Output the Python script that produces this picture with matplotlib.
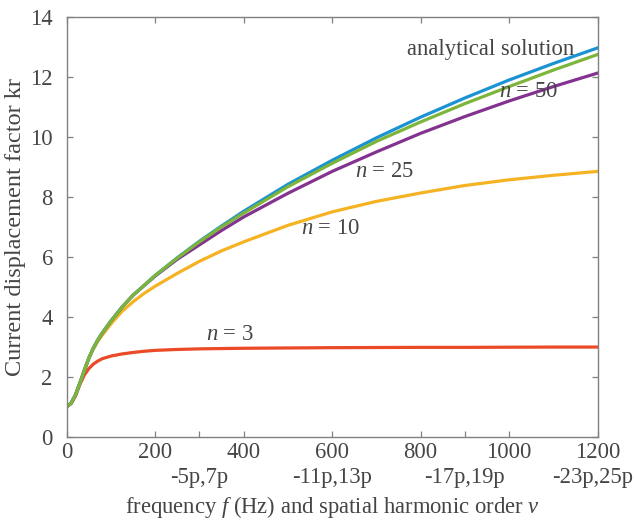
import matplotlib
matplotlib.use("Agg")
import matplotlib.pyplot as plt

plt.rcParams['font.family'] = ['Liberation Serif', 'DejaVu Serif']
plt.rcParams['mathtext.fontset'] = 'custom'
plt.rcParams['mathtext.it'] = 'Liberation Serif:italic'
plt.rcParams['mathtext.rm'] = 'Liberation Serif'

freq = [0, 10, 20, 30, 40, 50, 60, 70, 80, 100, 125, 150, 175, 200, 250, 300,
        350, 400, 500, 600, 700, 800, 900, 1000, 1100, 1200]

analytical = [1.00, 1.12, 1.40, 1.80, 2.22, 2.62, 2.95, 3.22, 3.45, 3.86, 4.32, 4.72,
              5.05, 5.38, 5.97, 6.52, 7.03, 7.52, 8.42, 9.22, 9.97, 10.66, 11.30,
              11.90, 12.45, 12.97]
n50 = [1.00, 1.12, 1.40, 1.80, 2.22, 2.62, 2.95, 3.22, 3.45, 3.86, 4.32, 4.72,
       5.05, 5.38, 5.96, 6.50, 7.00, 7.46, 8.34, 9.12, 9.85, 10.50, 11.11,
       11.68, 12.23, 12.75]
n25 = [1.00, 1.12, 1.40, 1.80, 2.22, 2.62, 2.95, 3.22, 3.45, 3.86, 4.32, 4.72,
       5.04, 5.36, 5.92, 6.40, 6.88, 7.33, 8.12, 8.85, 9.50, 10.12, 10.68,
       11.20, 11.68, 12.13]
n10 = [1.00, 1.12, 1.40, 1.80, 2.21, 2.60, 2.92, 3.17, 3.38, 3.76, 4.18, 4.50,
       4.78, 5.02, 5.45, 5.85, 6.20, 6.50, 7.05, 7.50, 7.85, 8.13, 8.38,
       8.57, 8.72, 8.85]
n3 = [1.00, 1.10, 1.36, 1.75, 2.06, 2.27, 2.42, 2.52, 2.60, 2.69, 2.76, 2.81,
      2.85, 2.88, 2.91, 2.93, 2.94, 2.95, 2.96, 2.97, 2.975, 2.98, 2.98,
      2.985, 2.99, 2.99]

x_ticks = [0, 200, 400, 600, 800, 1000, 1200]
harm_pos = [300, 600, 900, 1200]
harm_labels = ['-5p,7p', '-11p,13p', '-17p,19p', '-23p,25p']

c_blue = '#1b93d3'
c_green = '#7db53a'
c_purple = '#83338f'
c_yellow = '#f5b323'
c_red = '#ea4a26'
txt = '#454545'
spine_c = '#808080'

fig = plt.figure(figsize=(6.34, 5.25), dpi=100)
ax = fig.add_axes([0.1052, 0.1682, 0.8375, 0.7994])

lw = 2.3
ax.plot(freq, n3, color=c_red, lw=lw)
ax.plot(freq, n10, color=c_yellow, lw=lw)
ax.plot(freq, n25, color=c_purple, lw=lw)
ax.plot(freq, analytical, color=c_blue, lw=lw)
ax.plot(freq, n50, color=c_green, lw=lw)

ax.set_xlim(0, 1200)
ax.set_ylim(0, 14)
ax.set_xticks(x_ticks)
ax.set_xticks([300, 900], minor=True)
ax.set_yticks(range(0, 15, 2))

fs = 16.3
ax.tick_params(axis='both', which='both', direction='in', length=4.5, width=0.9,
               color=spine_c, labelcolor=txt, labelsize=fs, top=True, right=True)
ax.tick_params(axis='x', which='minor', top=False)
ax.tick_params(axis='x', pad=4)
ax.tick_params(axis='y', pad=10)
for s in ax.spines.values():
    s.set_color(spine_c)
    s.set_linewidth(1.0)

for p, l in zip(harm_pos, harm_labels):
    xp = p - 12 if p == 1200 else p
    ax.text(xp, -0.097, l, transform=ax.get_xaxis_transform(), ha='center', va='center',
            fontsize=fs, color=txt)

ax.set_xlabel('frequency $f$ (Hz) and spatial harmonic order $v$', fontsize=fs,
              color=txt)
ax.xaxis.label.set_va('center')
ax.xaxis.set_label_coords(0.5, -0.168)
ax.set_ylabel('Current displacement factor kr', fontsize=17.5, color=txt)
ax.yaxis.label.set_va('center')
ax.yaxis.set_label_coords(-0.096, 0.5)

ax.text(957, 12.9, 'analytical solution', fontsize=fs, color=txt, ha='center', va='center')
ax.text(1045, 11.5, '$n$ = 50', fontsize=fs, color=txt, ha='center', va='center')
ax.text(719, 8.83, '$n$ = 25', fontsize=fs, color=txt, ha='center', va='center')
ax.text(597, 6.93, '$n$ = 10', fontsize=fs, color=txt, ha='center', va='center')
ax.text(369, 3.40, '$n$ = 3', fontsize=fs, color=txt, ha='center', va='center')

fig.savefig('out.png', dpi=100)
